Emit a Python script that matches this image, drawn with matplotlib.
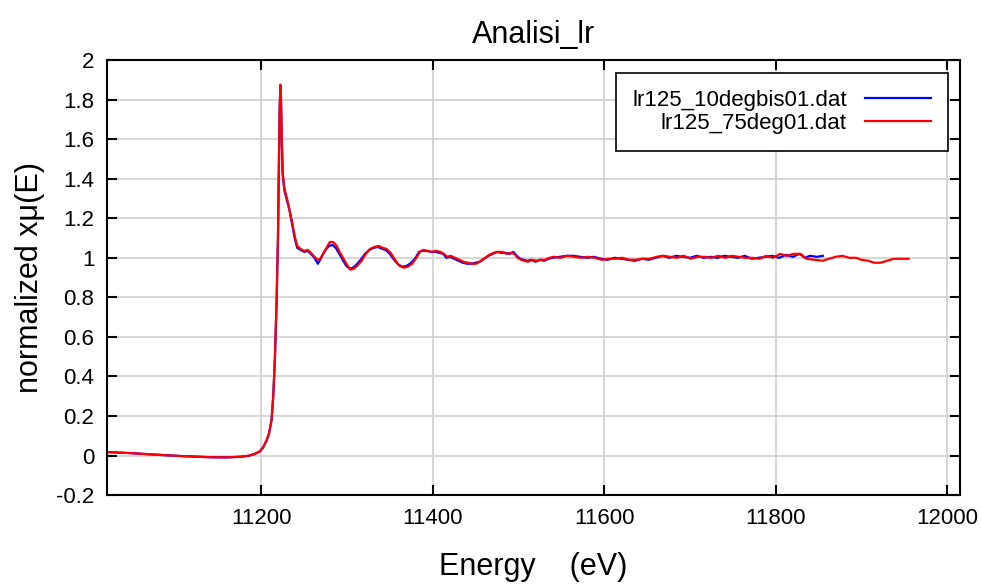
import matplotlib
matplotlib.use("Agg")
import matplotlib.pyplot as plt
from matplotlib.ticker import FormatStrFormatter
import numpy as np

plt.rcParams['font.family'] = ['Liberation Sans', 'DejaVu Sans']

# energy (eV) and normalized absorption for the two scans
e_10deg = [11020, 11050, 11080, 11110, 11140, 11160, 11175, 11185, 11192, 11198,
           11202, 11206, 11209, 11212, 11214, 11216, 11218, 11219.5, 11220.5, 11221.5,
           11222.3, 11223, 11224, 11225, 11227, 11230, 11233, 11236, 11239, 11242,
           11246, 11250, 11254, 11258, 11262, 11266, 11268, 11271, 11275, 11279,
           11283, 11287, 11291, 11295, 11299, 11303, 11307, 11311, 11316, 11321,
           11326, 11331, 11336, 11341, 11345, 11350, 11355, 11360, 11365, 11370,
           11375, 11380, 11384, 11388, 11393, 11398, 11403, 11408, 11412, 11416,
           11420, 11425, 11430, 11435, 11440, 11445, 11450, 11455, 11460, 11465,
           11470, 11475, 11480, 11485, 11490, 11494, 11498, 11502, 11506, 11510,
           11515, 11520, 11525, 11530, 11535, 11540, 11548, 11556, 11564, 11572,
           11580, 11588, 11596, 11604, 11612, 11620, 11628, 11636, 11644, 11652,
           11660, 11668, 11676, 11684, 11692, 11700, 11708, 11716, 11724, 11732,
           11740, 11748, 11756, 11764, 11772, 11780, 11788, 11796, 11804, 11812,
           11820, 11828, 11834, 11840, 11848, 11855]
mu_10deg = [0.018, 0.012, 0.004, -0.003, -0.008, -0.009, -0.006, -0.001, 0.008, 0.02,
            0.04, 0.075, 0.11, 0.18, 0.3, 0.5, 0.8, 1.1, 1.45, 1.75,
            1.86, 1.80, 1.58, 1.42, 1.34, 1.29, 1.24, 1.17, 1.10, 1.05,
            1.04, 1.03, 1.035, 1.02, 1.00, 0.97, 0.985, 1.01, 1.04, 1.06,
            1.065, 1.05, 1.02, 0.99, 0.96, 0.945, 0.95, 0.965, 0.99, 1.02,
            1.04, 1.05, 1.055, 1.045, 1.04, 1.02, 0.99, 0.965, 0.955, 0.96,
            0.975, 1.0, 1.03, 1.035, 1.035, 1.03, 1.03, 1.025, 1.02, 1.0,
            1.005, 0.995, 0.985, 0.975, 0.97, 0.97, 0.975, 0.98, 0.995, 1.01,
            1.02, 1.03, 1.025, 1.025, 1.02, 1.03, 1.01, 0.995, 0.99, 0.985,
            0.99, 0.98, 0.99, 0.985, 0.995, 1.0, 1.005, 1.01, 1.01, 1.005,
            1.0, 1.005, 0.995, 0.99, 1.0, 0.995, 0.99, 0.985, 0.995, 0.99,
            1.0, 1.01, 1.0, 1.01, 1.005, 1.0, 1.01, 1.0, 1.005, 1.0,
            1.01, 1.005, 1.0, 1.01, 0.995, 1.0, 1.005, 1.01, 1.0, 1.015,
            1.005, 1.02, 1.0, 1.01, 1.005, 1.01]

e_75deg = [11020, 11050, 11080, 11110, 11140, 11160, 11175, 11185, 11192, 11198,
           11202, 11206, 11209, 11212, 11214, 11216, 11218, 11219.5, 11220.5, 11221.5,
           11222.3, 11223, 11224, 11225, 11227, 11230, 11233, 11236, 11239, 11242,
           11246, 11250, 11254, 11258, 11262, 11266, 11269, 11272, 11276, 11280,
           11284, 11288, 11292, 11296, 11300, 11304, 11308, 11312, 11317, 11322,
           11327, 11332, 11337, 11342, 11346, 11351, 11356, 11361, 11366, 11371,
           11376, 11381, 11385, 11389, 11394, 11399, 11404, 11409, 11413, 11417,
           11421, 11426, 11431, 11436, 11441, 11446, 11451, 11456, 11461, 11466,
           11471, 11476, 11481, 11486, 11491, 11495, 11499, 11503, 11507, 11511,
           11516, 11521, 11526, 11531, 11536, 11541, 11549, 11557, 11565, 11573,
           11581, 11589, 11597, 11605, 11613, 11621, 11629, 11637, 11645, 11653,
           11661, 11669, 11677, 11685, 11693, 11701, 11709, 11717, 11725, 11733,
           11741, 11749, 11757, 11765, 11773, 11781, 11789, 11797, 11805, 11813,
           11821, 11829, 11836, 11845, 11855, 11862, 11870, 11878, 11886, 11894,
           11900, 11908, 11915, 11922, 11930, 11938, 11946, 11955]
mu_75deg = [0.018, 0.012, 0.004, -0.003, -0.008, -0.009, -0.006, -0.001, 0.008, 0.02,
            0.04, 0.075, 0.11, 0.18, 0.3, 0.5, 0.8, 1.1, 1.45, 1.76,
            1.875, 1.81, 1.59, 1.43, 1.35, 1.30, 1.24, 1.18, 1.11, 1.06,
            1.045, 1.035, 1.04, 1.025, 1.005, 0.99, 0.995, 1.02, 1.05, 1.08,
            1.08, 1.06, 1.025, 0.995, 0.965, 0.94, 0.945, 0.96, 0.985, 1.02,
            1.045, 1.055, 1.06, 1.05, 1.045, 1.025, 0.99, 0.96, 0.95, 0.955,
            0.97, 1.0, 1.03, 1.04, 1.035, 1.03, 1.035, 1.03, 1.02, 1.005,
            1.01, 1.0, 0.99, 0.98, 0.975, 0.97, 0.97, 0.985, 1.0, 1.015,
            1.025, 1.03, 1.03, 1.02, 1.025, 1.02, 1.0, 0.99, 0.985, 0.98,
            0.99, 0.985, 0.99, 0.99, 1.0, 1.005, 1.0, 1.01, 1.005, 1.0,
            1.005, 1.0, 0.99, 0.995, 0.995, 1.0, 0.99, 0.99, 0.995, 0.995,
            1.005, 1.01, 1.005, 1.0, 1.01, 0.995, 1.005, 1.005, 1.0, 1.01,
            1.0, 1.01, 1.005, 1.0, 1.0, 0.995, 1.01, 1.0, 1.02, 1.01,
            1.02, 1.02, 0.995, 0.99, 0.985, 0.995, 1.005, 1.01, 1.0, 1.0,
            0.99, 0.985, 0.975, 0.975, 0.985, 0.995, 0.995, 0.995]

fig = plt.figure(figsize=(9.81, 5.86), dpi=100)
ax = fig.add_axes([0.109, 0.155, 0.8696, 0.7426])

ax.plot(e_10deg, mu_10deg, color='#0000ff', lw=1.6, label='lr125_10degbis01.dat')
ax.plot(e_75deg, mu_75deg, color='#ff0000', lw=1.6, label='lr125_75deg01.dat')

ax.set_xlim(11020, 12015)
ax.set_ylim(-0.2, 2.0)
ax.set_xticks(np.arange(11200, 12001, 200))
ax.set_yticks(np.arange(-0.2, 2.01, 0.2))
ax.yaxis.set_major_formatter(FormatStrFormatter('%g'))
ax.grid(True, color='#d0d0d0', lw=1.2)
ax.set_axisbelow(True)
ax.tick_params(direction='in', length=7, width=1.5, top=True, right=True,
               labelsize=16, pad=9, colors='black')
for s in ax.spines.values():
    s.set_linewidth(1.5)

ax.set_title('Analisi_lr', fontsize=22, pad=12)
ax.set_xlabel('Energy    (eV)', fontsize=22, labelpad=17)
ax.set_ylabel('normalized xμ(E)', fontsize=22, labelpad=8)

leg = ax.legend(loc='upper right', bbox_to_anchor=(0.986, 0.970), borderaxespad=0,
                markerfirst=False, fontsize=16, frameon=True, fancybox=False,
                framealpha=1, edgecolor='black', handlelength=3.0, handletextpad=0.8,
                borderpad=0.75, labelspacing=0.1)
leg.get_frame().set_linewidth(1.2)
for col in leg._legend_handle_box.get_children():
    col.align = 'right'

fig.savefig('out.png', dpi=100)
